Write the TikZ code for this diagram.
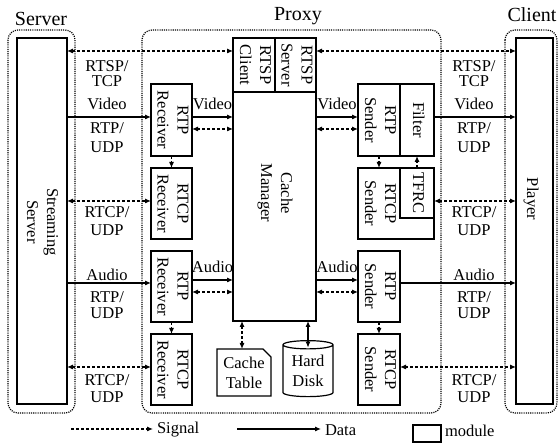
\documentclass[tikz,border=0pt]{standalone}
\usepackage{fontspec}
\usepackage{graphicx}
\setmainfont{Liberation Serif}
\usetikzlibrary{arrows.meta,shapes.geometric}
\newcommand{\vt}[1]{\rotatebox[origin=c]{-90}{\begin{tabular}{@{}c@{}}#1\end{tabular}}}
\begin{document}
\begin{tikzpicture}[x=1pt,y=-1pt,
  every node/.style={font=\fontsize{16.5}{20}\selectfont, inner sep=0pt, outer sep=0pt},
  box/.style={draw, line width=1.2pt, align=center},
  grp/.style={draw, line width=1.2pt, dash pattern=on 1.1pt off 1.1pt, rounded corners=10pt},
  tip/.style={-{Latex[length=6pt,width=5pt]}},
  dtip/.style={{Latex[length=6pt,width=5pt]}-{Latex[length=6pt,width=5pt]}},
  data/.style={tip, line width=1.1pt},
  sig/.style={dtip, line width=1.1pt, dash pattern=on 3pt off 2pt},
  sig1/.style={tip, line width=1.1pt, dash pattern=on 3pt off 2pt},
  title/.style={font=\fontsize{20}{24}\selectfont, anchor=base}
]
\useasboundingbox (0,0) rectangle (558,443);

% group frames
\draw[grp] (8,30) rectangle (75,413);
\draw[grp] (142,30) rectangle (441,413);
\draw[grp] (505,30) rectangle (557,413);
\node[title] (tserver) at (41,26) {Server};
\node[title] (tproxy) at (298,21) {Proxy};
\node[title] (tclient) at (532,22) {Client};

% modules
\node[box, minimum width=50, minimum height=366] (ss) at (42,221) {};
\node (sst) at (41,222) {\vt{Streaming\\Server}};
\node[box, minimum width=37, minimum height=366] (player) at (534.5,221) {};
\node (plt) at (531,199) {\vt{Player}};

\node[box, minimum width=83, minimum height=229] (cm) at (274.5,206.5) {};
\node (cmt) at (275,193) {\vt{Cache\\Manager}};
\node[box, minimum width=42, minimum height=54] (rtspc) at (254,65) {\vt{RTSP\\Client}};
\node[box, minimum width=41, minimum height=54] (rtsps) at (295.5,65) {\vt{RTSP\\Server}};

\node[box, minimum width=41, minimum height=72] (rtpr1) at (171.5,120) {\vt{RTP\\Receiver}};
\node[box, minimum width=41, minimum height=71] (rtcpr1) at (171.5,203.5) {\vt{RTCP\\Receiver}};
\node[box, minimum width=41, minimum height=71] (rtpr2) at (171.5,286.5) {\vt{RTP\\Receiver}};
\node[box, minimum width=41, minimum height=71] (rtcpr2) at (171.5,369.5) {\vt{RTCP\\Receiver}};

\node[box, minimum width=42, minimum height=72] (rtps1) at (379,120) {\vt{RTP\\Sender}};
\node[box, minimum width=34, minimum height=72] (filter) at (417,120) {\vt{Filter}};
\node[box, minimum width=76, minimum height=71] (rtcps1) at (396,203.5) {};
\node (rtcps1t) at (379,203.5) {\vt{RTCP\\Sender}};
\node[box, minimum width=34, minimum height=50] (tfrc) at (417,193) {\vt{TFRC}};
\node[box, minimum width=42, minimum height=71] (rtps2) at (379,286.5) {\vt{RTP\\Sender}};
\node[box, minimum width=42, minimum height=71] (rtcps2) at (379,369.5) {\vt{RTCP\\Sender}};

% cache table (chamfered)
\node[minimum width=54, minimum height=47, align=center] (ct) at (244,372.5) {Cache\\Table};
\draw[line width=1.2pt] (ct.north west) -- ([xshift=-8pt]ct.north east) -- ([yshift=-8pt]ct.north east) -- (ct.south east) -- (ct.south west) -- cycle;
% hard disk
\node[cylinder, shape border rotate=90, draw, line width=1.2pt, minimum width=50, minimum height=56, aspect=0.25, align=center] (hd) at (308,371) {Hard\\Disk};

% RTSP
\draw[sig] (ss.east |- 0,51) -- (rtspc.west |- 0,51);
\draw[sig] (rtsps.east |- 0,51) -- (player.west |- 0,51);
\node (l1) at (107,66) {RTSP/};
\node (l2) at (107,81) {TCP};
\node (r1) at (474,66) {RTSP/};
\node (r2) at (474,81) {TCP};

% video
\draw[data] (ss.east |- 0,117) -- (rtpr1.west |- 0,117);
\draw[data] (rtpr1.east |- 0,117) -- (cm.west |- 0,117);
\draw[sig] (rtpr1.east |- 0,129) -- (cm.west |- 0,129);
\draw[data] (cm.east |- 0,117) -- (rtps1.west |- 0,117);
\draw[sig] (cm.east |- 0,129) -- (rtps1.west |- 0,129);
\draw[data] (filter.east |- 0,117) -- (player.west |- 0,117);
\node (l3) at (107,104) {Video};
\node (l4) at (107,128) {RTP/};
\node (l5) at (107,147) {UDP};
\node (m1) at (212.5,104) {Video};
\node (m2) at (337,104) {Video};
\node (r3) at (474,104) {Video};
\node (r4) at (474,128) {RTP/};
\node (r5) at (474,147) {UDP};

\draw[sig1] (rtpr1.south) -- (rtcpr1.north);
\draw[sig1] (rtps1.south) -- (rtps1.south |- rtcps1.north);
\draw[sig1] (tfrc.north) -- (filter.south);

% RTCP video
\draw[sig] (ss.east |- 0,201) -- (rtcpr1.west |- 0,201);
\draw[sig] (rtcps1.east |- 0,201) -- (player.west |- 0,201);
\node (l6) at (107,212) {RTCP/};
\node (l7) at (107,230) {UDP};
\node (r6) at (474,212) {RTCP/};
\node (r7) at (474,230) {UDP};

% audio
\draw[data] (ss.east |- 0,283) -- (rtpr2.west |- 0,283);
\draw[data] (rtpr2.east |- 0,280) -- (cm.west |- 0,280);
\draw[sig] (rtpr2.east |- 0,292) -- (cm.west |- 0,292);
\draw[data] (cm.east |- 0,280) -- (rtps2.west |- 0,280);
\draw[sig] (cm.east |- 0,292) -- (rtps2.west |- 0,292);
\draw[data] (rtps2.east |- 0,283) -- (player.west |- 0,283);
\node (l8) at (107,275) {Audio};
\node (l9) at (107,297) {RTP/};
\node (l10) at (107,313) {UDP};
\node (m3) at (212.5,267) {Audio};
\node (m4) at (337,267) {Audio};
\node (r8) at (474,275) {Audio};
\node (r9) at (474,297) {RTP/};
\node (r10) at (474,313) {UDP};

\draw[sig1] (rtpr2.south) -- (rtcpr2.north);
\draw[sig1] (rtps2.south) -- (rtcps2.north);

% RTCP audio
\draw[sig] (ss.east |- 0,367) -- (rtcpr2.west |- 0,367);
\draw[sig] (rtcps2.east |- 0,367) -- (player.west |- 0,367);
\node (l11) at (107,380) {RTCP/};
\node (l12) at (107,397) {UDP};
\node (r11) at (474,380) {RTCP/};
\node (r12) at (474,397) {UDP};

% storage
\draw[sig] (cm.south -| 242,0) -- (242,349);
\draw[data, dtip] (cm.south -| hd.north) -- ([yshift=-7pt]hd.north);

% legend
\coordinate (sg1) at (71,429);
\coordinate (sg2) at (153,429);
\draw[sig1] (sg1) -- (sg2);
\node[anchor=west] (sgt) at (157,430) {Signal};
\coordinate (dt1) at (237,429);
\coordinate (dt2) at (321,429);
\draw[data] (dt1) -- (dt2);
\node[anchor=west] (dtt) at (325,430) {Data};
\node[box, minimum width=28, minimum height=17] (mb) at (427,433.5) {};
\node[anchor=west] (mbt) at (445,431) {module};
\end{tikzpicture}
\end{document}
